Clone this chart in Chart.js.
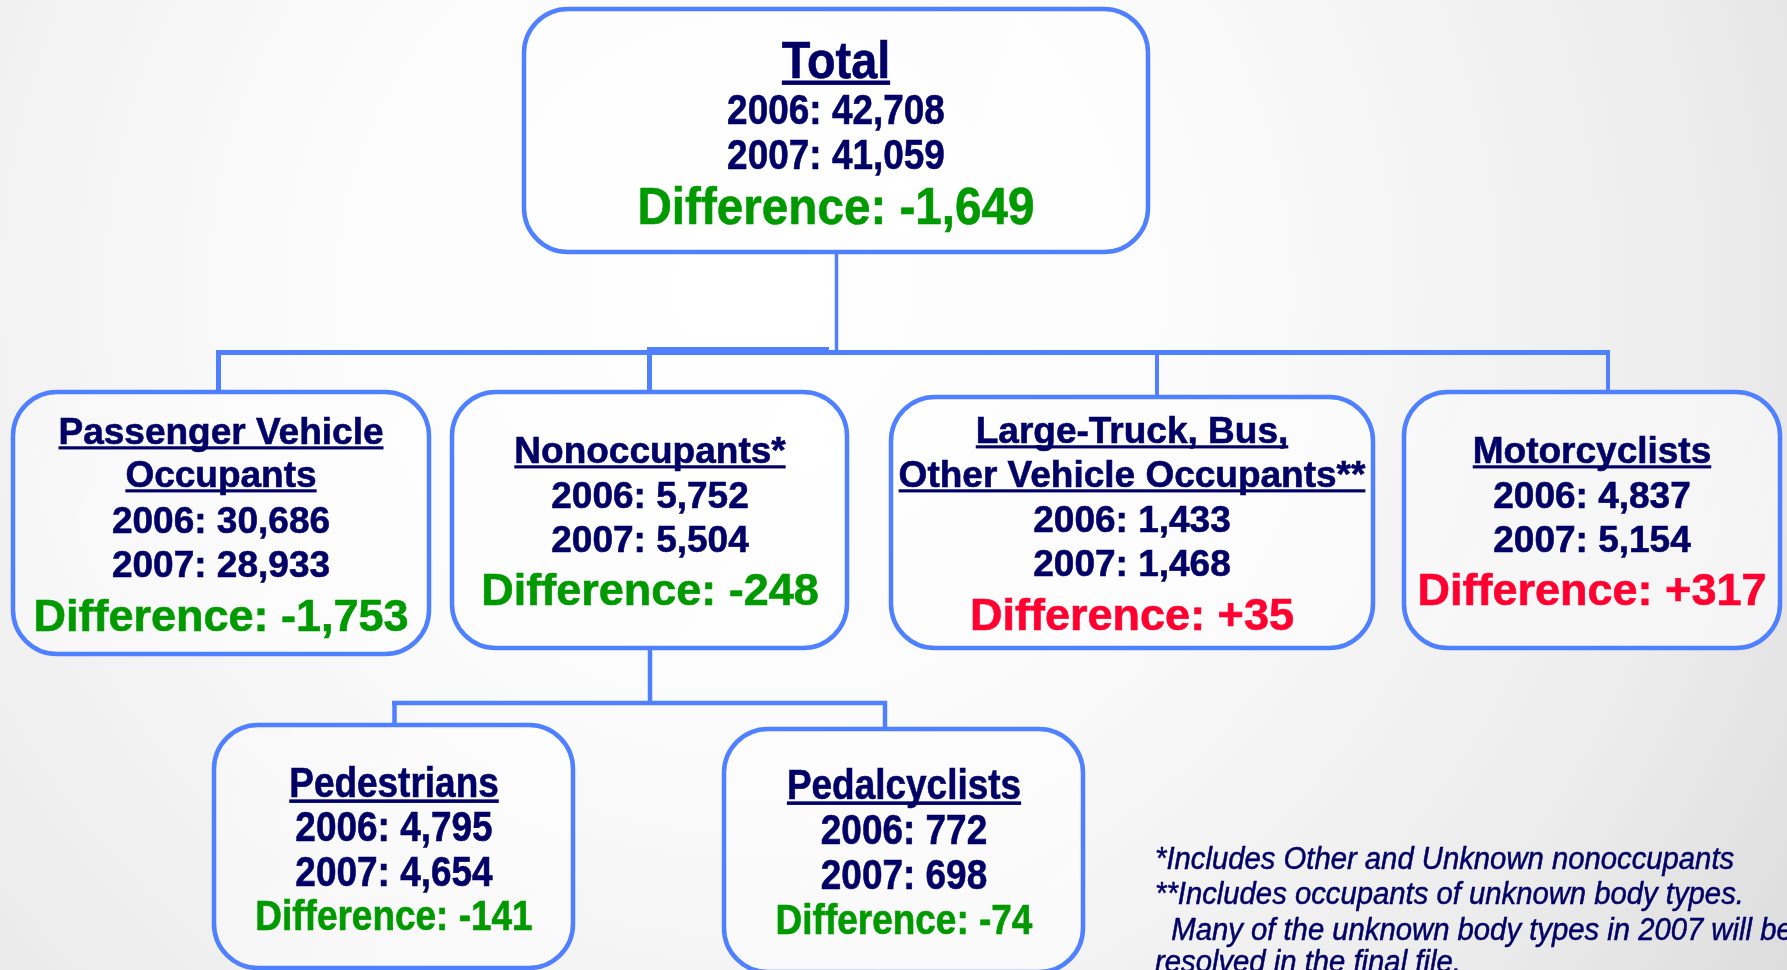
<!DOCTYPE html>
<html>
<head>
<meta charset="utf-8">
<script src="https://cdn.jsdelivr.net/npm/chart.js@4.4.1/dist/chart.umd.min.js"></script>
<style>
html,body{margin:0;padding:0;overflow:hidden;background:#fff;}
#wrap{width:1787px;height:970px;position:relative;}
</style>
</head>
<body>
<div id="wrap"><canvas id="c"></canvas></div>
<script>
// ---- data ----
const categories = ["Total", "Passenger Vehicle\nOccupants", "Nonoccupants*", "Large-Truck, Bus,\nOther Vehicle Occupants**", "Motorcyclists", "Pedestrians", "Pedalcyclists"];
const years = ["2006", "2007"];
const values2006 = [42708, 30686, 5752, 1433, 4837, 4795, 772];
const values2007 = [41059, 28933, 5504, 1468, 5154, 4654, 698];
const differences = [-1649, -1753, -248, 35, 317, -141, -74];
const parentOf = [null, 0, 0, 0, 0, 2, 2];
const footnotes = [
  "*Includes Other and Unknown nonoccupants",
  "**Includes occupants of unknown body types.",
  "  Many of the unknown body types in 2007 will be",
  "resolved in the final file."
];

// ---- layout (data-space units of the hidden scales) ----
const boxes = [
  {x0:524, y0:9,   x1:1148, y1:252, cx:836,  ty:[59],       ly:[109,154], dy:205, tf:52, tsx:0.9,  nf:42, nsx:0.88, df:52, dsx:0.916},
  {x0:13,  y0:392, x1:429,  y1:654, cx:221,  ty:[431,474],  ly:[520,564], dy:615, tf:37, tsx:1,    nf:37, nsx:1,    df:45, dsx:1},
  {x0:452, y0:392, x1:847,  y1:648, cx:650,  ty:[450],      ly:[495,539], dy:589, tf:37, tsx:1,    nf:37, nsx:1,    df:45, dsx:1},
  {x0:891, y0:397, x1:1373, y1:648, cx:1132, ty:[430,474],  ly:[519,563], dy:614, tf:37, tsx:1,    nf:37, nsx:1,    df:45, dsx:1},
  {x0:1404,y0:392, x1:1780, y1:648, cx:1592, ty:[450],      ly:[495,539], dy:589, tf:37, tsx:1,    nf:37, nsx:1,    df:45, dsx:1},
  {x0:214, y0:725, x1:573,  y1:968, cx:394,  ty:[782],      ly:[826,871], dy:915, tf:42, tsx:0.88, nf:42, nsx:0.88, df:42, dsx:0.88},
  {x0:724, y0:729, x1:1083, y1:972, cx:904,  ty:[784],      ly:[829,874], dy:919, tf:42, tsx:0.88, nf:42, nsx:0.88, df:42, dsx:0.88}
];
const connectors = [
  // [x0,y0,x1,y1,width]
  [836.5,252,836.5,354,3.5],
  [216,352.5,1610,352.5,5],
  [647,349.5,829,349.5,5],
  [218.5,350,218.5,393,5],
  [649.5,350,649.5,393,5],
  [1157,350,1157,398,4],
  [1608,350,1608,393,4],
  [650,648,650,705,4.5],
  [392,703,887,703,4.5],
  [394.5,701,394.5,726,4.5],
  [885,701,885,730,4.5]
];
const footLayout = {x:1155, ys:[858,893,929,961], font:31, sx:0.944};

const NAVY = '#000066', GREEN = '#009a00', RED = '#ff0030', BLUE = '#4f80ff';
const FONT = '"Liberation Sans", Arial, Helvetica, sans-serif';

function fmt(n){ return n.toLocaleString('en-US'); }
function fmtDiff(n){ return (n>0?'+':'-') + Math.abs(n).toLocaleString('en-US'); }

function drawText(ctx, text, x, cy, size, sx, color, opts){
  opts = opts || {};
  ctx.save();
  ctx.font = (opts.italic?'italic ':'') + (opts.bold===false?'':'bold ') + size + 'px ' + FONT;
  ctx.fillStyle = color;
  ctx.textBaseline = 'alphabetic';
  const base = cy + 0.358*size;
  ctx.translate(x, base);
  ctx.scale(sx, 1);
  ctx.textAlign = opts.align || 'center';
  ctx.fillText(text, 0, 0);
  if (opts.stroke){
    ctx.strokeStyle = color;
    ctx.lineWidth = opts.stroke;
    ctx.strokeText(text, 0, 0);
  }
  if (opts.underline){
    const w = ctx.measureText(text).width;
    ctx.fillRect(-w/2, 0.055*size, w, Math.max(3, 0.085*size));
  }
  ctx.restore();
}

function roundRectPath(ctx, x0, y0, x1, y1, r){
  ctx.beginPath();
  ctx.moveTo(x0+r, y0);
  ctx.lineTo(x1-r, y0);
  ctx.arcTo(x1, y0, x1, y0+r, r);
  ctx.lineTo(x1, y1-r);
  ctx.arcTo(x1, y1, x1-r, y1, r);
  ctx.lineTo(x0+r, y1);
  ctx.arcTo(x0, y1, x0, y1-r, r);
  ctx.lineTo(x0, y0+r);
  ctx.arcTo(x0, y0, x0+r, y0, r);
  ctx.closePath();
}

const orgPlugin = {
  id: 'orgchart',
  beforeDraw(chart){
    const ctx = chart.ctx, w = chart.width, h = chart.height;
    const g = ctx.createRadialGradient(w*0.42, h*0.3, 0, w*0.42, h*0.3, w*0.72);
    g.addColorStop(0, '#ffffff');
    g.addColorStop(0.35, '#fbfbfb');
    g.addColorStop(0.75, '#ececec');
    g.addColorStop(1, '#dadada');
    ctx.save();
    ctx.fillStyle = g;
    ctx.fillRect(0, 0, w, h);
    ctx.restore();
  },
  afterDatasetsDraw(chart){
    const ctx = chart.ctx;
    const X = v => chart.scales.x.getPixelForValue(v);
    const Y = v => chart.scales.y.getPixelForValue(v);
    ctx.save();
    // connectors
    ctx.strokeStyle = BLUE;
    ctx.lineCap = 'butt';
    connectors.forEach(c => {
      ctx.lineWidth = c[4];
      ctx.beginPath();
      ctx.moveTo(X(c[0]), Y(c[1]));
      ctx.lineTo(X(c[2]), Y(c[3]));
      ctx.stroke();
    });
    // boxes
    boxes.forEach((b, i) => {
      const x0 = X(b.x0), x1 = X(b.x1), y0 = Y(b.y0), y1 = Y(b.y1);
      roundRectPath(ctx, x0, y0, x1, y1, 44);
      const fg = ctx.createLinearGradient(x0, y0, x1, y1);
      fg.addColorStop(0, 'rgba(255,255,255,0.35)');
      fg.addColorStop(1, 'rgba(255,255,255,0.6)');
      ctx.fillStyle = fg;
      ctx.fill();
      ctx.lineWidth = 4.5;
      ctx.strokeStyle = BLUE;
      ctx.stroke();

      const cx = X(b.cx);
      const titleLines = categories[i].split('\n');
      titleLines.forEach((t, k) => drawText(ctx, t, cx, Y(b.ty[k]), b.tf, b.tsx, NAVY, {underline:true, stroke:0.6}));
      drawText(ctx, years[0] + ': ' + fmt(values2006[i]), cx, Y(b.ly[0]), b.nf, b.nsx, NAVY, {stroke:0.6});
      drawText(ctx, years[1] + ': ' + fmt(values2007[i]), cx, Y(b.ly[1]), b.nf, b.nsx, NAVY, {stroke:0.6});
      drawText(ctx, 'Difference: ' + fmtDiff(differences[i]), cx, Y(b.dy), b.df, b.dsx, differences[i] > 0 ? RED : GREEN, {stroke:0.6});
    });
    // footnotes
    footnotes.forEach((t, k) => {
      drawText(ctx, t, X(footLayout.x), Y(footLayout.ys[k]), footLayout.font, footLayout.sx, NAVY,
        {italic:true, bold:false, align:'left', stroke:0.5});
    });
    ctx.restore();
  }
};

const nodePoints = boxes.map((b, i) => ({x: b.cx, y: (b.y0 + b.y1) / 2, v: values2007[i]}));

new Chart(document.getElementById('c'), {
  type: 'scatter',
  data: {
    datasets: [{
      label: 'Fatalities',
      data: nodePoints,
      pointRadius: 0,
      pointHoverRadius: 0
    }]
  },
  options: {
    responsive: true,
    maintainAspectRatio: false,
    devicePixelRatio: 1,
    animation: false,
    layout: {padding: 0},
    plugins: {legend: {display: false}, tooltip: {enabled: false}, title: {display: false}},
    events: [],
    scales: {
      x: {type: 'linear', min: 0, max: 1787, display: false},
      y: {type: 'linear', min: 0, max: 970, reverse: true, display: false}
    }
  },
  plugins: [orgPlugin]
});
</script>
</body>
</html>
